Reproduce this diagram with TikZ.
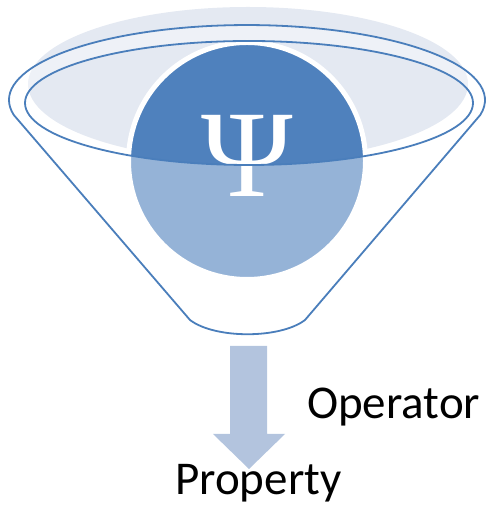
\documentclass[tikz,border=0pt]{standalone}
\usepackage{fontspec}
\setmainfont{Carlito}
\newfontfamily\greekserif{Liberation Serif}
\definecolor{rimblue}{HTML}{4A7EBB}
\definecolor{ballblue}{HTML}{4F81BD}
\definecolor{bowlfill}{HTML}{E4E9F2}
\definecolor{arrowfill}{HTML}{B3C4DE}
\tikzset{
  rimline/.style={draw=rimblue, line width=1.8pt, line join=round},
  label/.style={inner sep=0pt, anchor=base west, font=\fontsize{47}{56}\selectfont}
}
\begin{document}
\begin{tikzpicture}[x=1pt,y=1pt]
  \useasboundingbox (0,0) rectangle (487,513);

  % inside surface of the bowl
  \fill[bowlfill] (248,429) ellipse [x radius=220pt, y radius=77pt];

  % the ball with its white edge
  \draw[fill=ballblue, draw=white, line width=5pt] (247,352) circle [radius=118.5pt];
  \node[inner sep=0pt, anchor=base, text=white, font=\greekserif\fontsize{124}{130}\selectfont]
    (psi) at (247,316) {Ψ};

  % funnel body in front: translucent white, open at the inner rim
  \fill[white, fill opacity=0.4, even odd rule]
    (13.8,398) arc[start angle=191.5, end angle=-11.5, x radius=238pt, y radius=75pt]
    -- (305,193) .. controls (280,174) and (215,174) .. (190,193) -- cycle
    (249,410) ellipse [x radius=224pt, y radius=62pt];

  % funnel outline and inner rim
  \draw[rimline]
    (13.8,398) arc[start angle=191.5, end angle=-11.5, x radius=238pt, y radius=75pt]
    -- (305,193) .. controls (280,174) and (215,174) .. (190,193) -- cycle;
  \draw[rimline] (249,410) ellipse [x radius=224pt, y radius=62pt];

  % downward arrow
  \fill[arrowfill] (230,167) -- (267,167) -- (267,79) -- (285,79) -- (249,44)
    -- (213,79) -- (230,79) -- cycle;

  \node[label] (op) at (307,94) {Operator};
  \node[label] (prop) at (175,18) {Property};
\end{tikzpicture}
\end{document}
